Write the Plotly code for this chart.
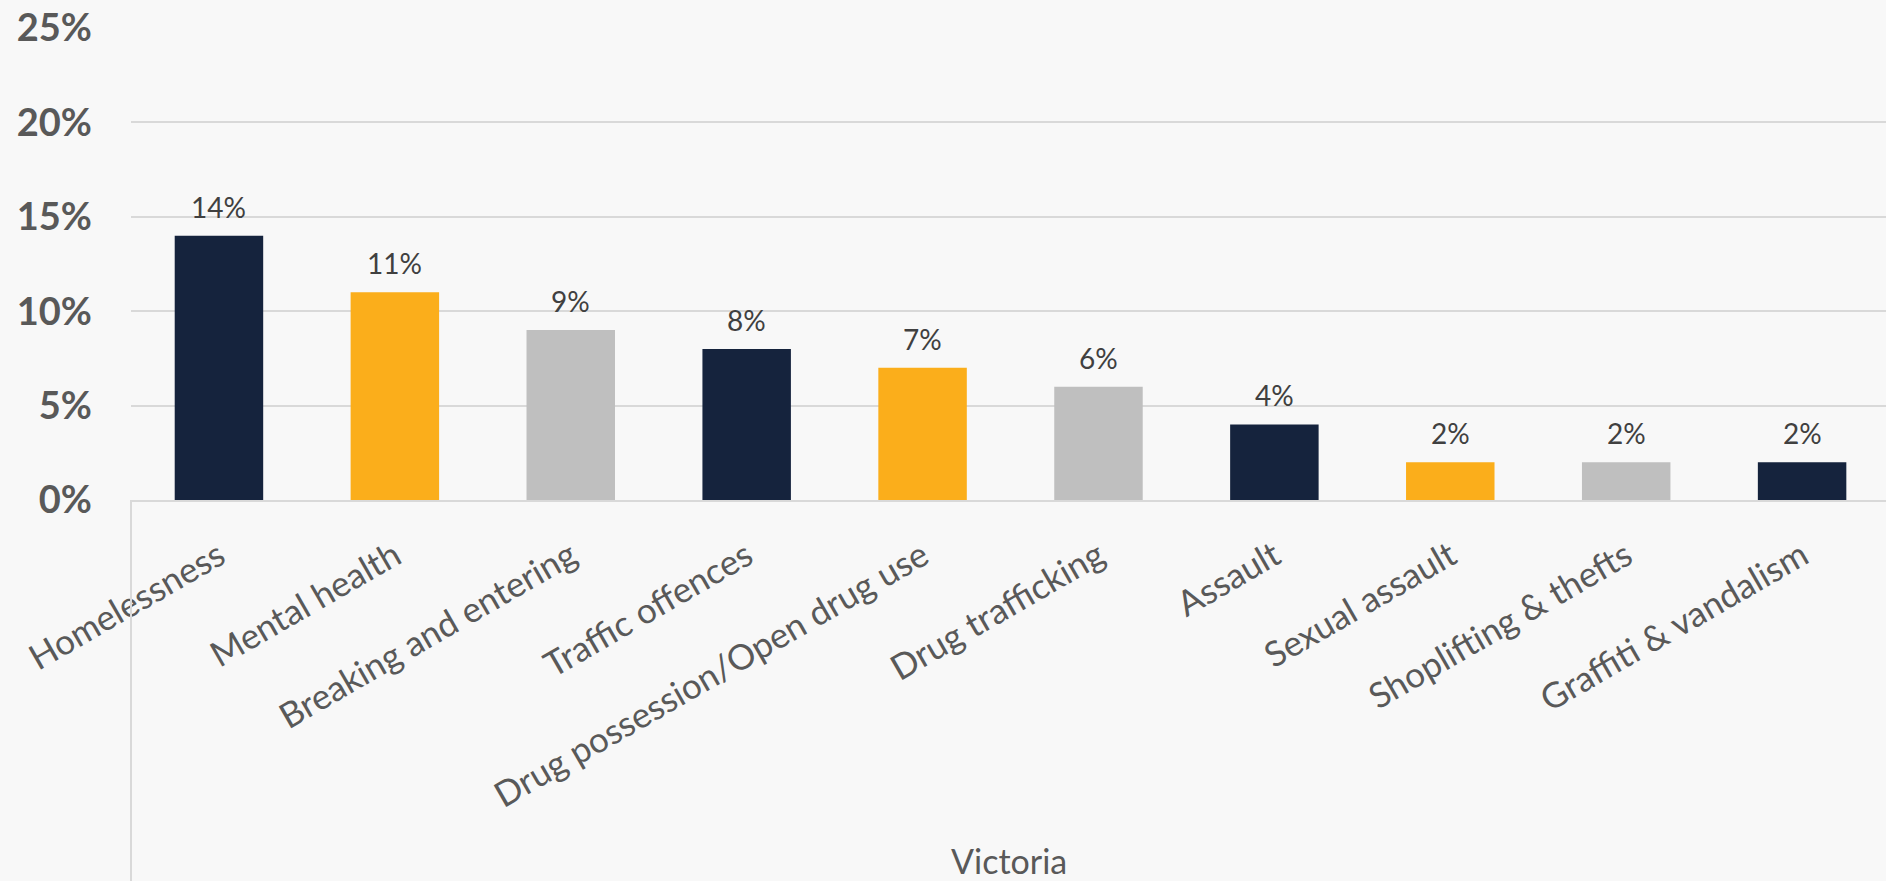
import plotly.graph_objects as go

categories = ["Homelessness", "Mental health", "Breaking and entering", "Traffic offences",
              "Drug possession/Open drug use", "Drug trafficking", "Assault", "Sexual assault",
              "Shoplifting & thefts", "Graffiti & vandalism"]
values = [0.14, 0.11, 0.09, 0.08, 0.07, 0.06, 0.04, 0.02, 0.02, 0.02]
value_labels = ["14%", "11%", "9%", "8%", "7%", "6%", "4%", "2%", "2%", "2%"]
bar_colors = ["#15233D", "#FBAE1B", "#BFBFBF", "#15233D", "#FBAE1B", "#BFBFBF",
              "#15233D", "#FBAE1B", "#BFBFBF", "#15233D"]
y_ticks = [0, 0.05, 0.10, 0.15, 0.20, 0.25]
group_label = "Victoria"

FONT = "Lato, 'Open Sans', sans-serif"

fig = go.Figure()
fig.add_trace(go.Bar(
    x=list(range(len(categories))), y=values,
    marker=dict(color=bar_colors, line=dict(width=0)),
    hoverinfo="skip",
))

for i, (v, t) in enumerate(zip(values, value_labels)):
    fig.add_annotation(x=i, y=v, text=t, showarrow=False, xref="x", yref="y",
                       yanchor="bottom", yshift=10,
                       font=dict(family=FONT, size=28, color="#404040"))

fig.add_annotation(x=0.5, y=-0.763, xref="paper", yref="paper", text=group_label,
                   showarrow=False, xanchor="center", yanchor="middle",
                   font=dict(family=FONT, size=34, color="#595959"))

# category-axis border extending down through the label area
fig.add_shape(type="line", xref="paper", yref="paper", x0=0, x1=0, y0=0, y1=-0.82,
              line=dict(color="#D9D9D9", width=2))

fig.update_layout(
    width=1886, height=881,
    margin=dict(l=131, r=0, t=28, b=380.5),
    paper_bgcolor="#F8F8F8", plot_bgcolor="#F8F8F8",
    bargap=0.497, showlegend=False,
    xaxis=dict(
        tickmode="array", tickvals=list(range(len(categories))), ticktext=categories,
        range=[-0.5, 9.477], tickangle=-30,
        tickfont=dict(family=FONT, size=35, color="#595959"),
        showgrid=False, zeroline=False, showline=True, linecolor="#D9D9D9", linewidth=2,
        ticks="", ticklabelstandoff=20,
    ),
    yaxis=dict(
        range=[0, 0.25], tickvals=y_ticks, tickformat=".0%",
        tickfont=dict(family=FONT, size=38, color="#595959", weight="bold"),
        showgrid=True, gridcolor="#D9D9D9", gridwidth=1.5,
        zeroline=False, showline=False, ticks="", ticklabelstandoff=38,
    ),
)

fig.write_html("out.html")
